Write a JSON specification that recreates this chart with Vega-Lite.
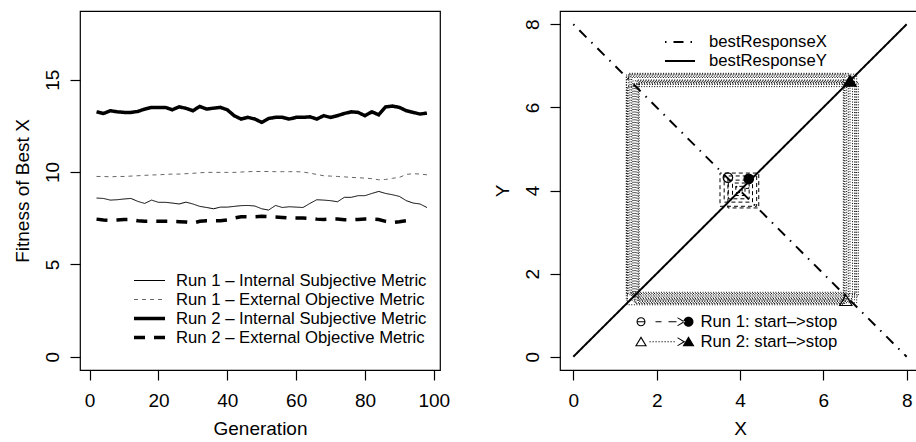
{
  "$schema": "https://vega.github.io/schema/vega-lite/v6.json",
  "background": "white",
  "padding": {"left": 12, "top": 10, "right": -4, "bottom": 0},
  "spacing": 120,
  "bounds": "flush",
  "config": {
    "font": "Liberation Sans",
    "view": {"stroke": "black", "strokeWidth": 1.2},
    "axis": {"domain": false, "grid": false, "tickColor": "black", "tickSize": 10, "tickWidth": 1.2,
      "labelFont": "Liberation Sans", "labelFontSize": 19, "labelColor": "black",
      "titleFont": "Liberation Sans", "titleFontSize": 19, "titleFontWeight": "normal", "titleColor": "black"},
    "legend": {"labelFont": "Liberation Sans", "labelFontSize": 16.7, "labelColor": "black", "title": null, "padding": 0, "labelLimit": 400}
  },
  "datasets": {
    "markers": [
      {"run": "Run 1: start–>stop", "kind": "start", "x": 3.71, "y": 4.31},
      {"run": "Run 1: start–>stop", "kind": "stop", "x": 4.21, "y": 4.28},
      {"run": "Run 2: start–>stop", "kind": "start", "x": 6.54, "y": 1.36},
      {"run": "Run 2: start–>stop", "kind": "stop", "x": 6.64, "y": 6.64}
    ]
  },
  "hconcat": [
    {
      "width": 360, "height": 359,
      "data": {"values": [
        {"g":2,"a":8.59,"b":9.76,"c":13.26,"d":7.45},
        {"g":4,"a":8.57,"b":9.76,"c":13.17,"d":7.40},
        {"g":6,"a":8.48,"b":9.74,"c":13.32,"d":7.38},
        {"g":8,"a":8.50,"b":9.76,"c":13.26,"d":7.40},
        {"g":10,"a":8.54,"b":9.76,"c":13.23,"d":7.43},
        {"g":12,"a":8.57,"b":9.78,"c":13.23,"d":7.43},
        {"g":14,"a":8.41,"b":9.80,"c":13.28,"d":7.36},
        {"g":16,"a":8.30,"b":9.82,"c":13.41,"d":7.33},
        {"g":18,"a":8.48,"b":9.84,"c":13.50,"d":7.33},
        {"g":20,"a":8.36,"b":9.85,"c":13.50,"d":7.33},
        {"g":22,"a":8.36,"b":9.87,"c":13.50,"d":7.33},
        {"g":24,"a":8.32,"b":9.89,"c":13.37,"d":7.33},
        {"g":26,"a":8.27,"b":9.89,"c":13.53,"d":7.31},
        {"g":28,"a":8.37,"b":9.91,"c":13.45,"d":7.29},
        {"g":30,"a":8.27,"b":9.93,"c":13.32,"d":7.24},
        {"g":32,"a":8.14,"b":9.96,"c":13.55,"d":7.33},
        {"g":34,"a":8.08,"b":9.98,"c":13.41,"d":7.36},
        {"g":36,"a":8.01,"b":9.98,"c":13.46,"d":7.36},
        {"g":38,"a":8.10,"b":9.98,"c":13.50,"d":7.36},
        {"g":40,"a":8.10,"b":9.98,"c":13.37,"d":7.40},
        {"g":42,"a":8.14,"b":9.98,"c":13.05,"d":7.51},
        {"g":44,"a":8.18,"b":10.00,"c":12.87,"d":7.58},
        {"g":46,"a":8.19,"b":10.02,"c":12.96,"d":7.58},
        {"g":48,"a":8.16,"b":10.03,"c":12.87,"d":7.58},
        {"g":50,"a":8.01,"b":10.03,"c":12.69,"d":7.60},
        {"g":52,"a":7.94,"b":10.03,"c":12.90,"d":7.58},
        {"g":54,"a":8.19,"b":10.02,"c":12.96,"d":7.56},
        {"g":56,"a":8.08,"b":10.02,"c":12.96,"d":7.54},
        {"g":58,"a":8.12,"b":10.02,"c":12.87,"d":7.51},
        {"g":60,"a":8.10,"b":10.02,"c":12.96,"d":7.51},
        {"g":62,"a":8.08,"b":10.00,"c":12.96,"d":7.51},
        {"g":64,"a":8.30,"b":9.94,"c":12.99,"d":7.49},
        {"g":66,"a":8.50,"b":9.87,"c":12.87,"d":7.45},
        {"g":68,"a":8.48,"b":9.80,"c":13.05,"d":7.43},
        {"g":70,"a":8.45,"b":9.78,"c":12.96,"d":7.45},
        {"g":72,"a":8.39,"b":9.76,"c":13.05,"d":7.45},
        {"g":74,"a":8.63,"b":9.74,"c":13.17,"d":7.42},
        {"g":76,"a":8.63,"b":9.71,"c":13.26,"d":7.42},
        {"g":78,"a":8.72,"b":9.69,"c":13.23,"d":7.43},
        {"g":80,"a":8.72,"b":9.67,"c":13.05,"d":7.45},
        {"g":82,"a":8.84,"b":9.64,"c":13.26,"d":7.45},
        {"g":84,"a":8.95,"b":9.58,"c":13.10,"d":7.43},
        {"g":86,"a":8.84,"b":9.60,"c":13.53,"d":7.33},
        {"g":88,"a":8.77,"b":9.66,"c":13.57,"d":7.27},
        {"g":90,"a":8.68,"b":9.71,"c":13.50,"d":7.31},
        {"g":92,"a":8.45,"b":9.87,"c":13.32,"d":7.36},
        {"g":94,"a":8.32,"b":9.91,"c":13.23,"d":7.43},
        {"g":96,"a":8.27,"b":9.89,"c":13.14,"d":null},
        {"g":98,"a":8.08,"b":9.85,"c":13.19,"d":null}
      ]},
      "transform": [
        {"fold": ["a", "b", "c", "d"], "as": ["key", "fit"]},
        {"lookup": "key", "from": {"data": {"values": [
          {"key": "a", "series": "Run 1 – Internal Subjective Metric"},
          {"key": "b", "series": "Run 1 – External Objective Metric"},
          {"key": "c", "series": "Run 2 – Internal Subjective Metric"},
          {"key": "d", "series": "Run 2 – External Objective Metric"}
        ]}, "key": "key", "fields": ["series"]}}
      ],
      "mark": {"type": "line", "clip": true},
      "encoding": {
        "x": {"field": "g", "type": "quantitative",
          "scale": {"domain": [-2.8, 101.8], "nice": false, "zero": false},
          "axis": {"values": [0, 20, 40, 60, 80, 100], "title": "Generation", "labelPadding": 11, "titlePadding": 9}},
        "y": {"field": "fit", "type": "quantitative",
          "scale": {"domain": [-0.72, 18.72], "nice": false, "zero": false},
          "axis": {"values": [0, 5, 10, 15], "title": "Fitness of Best X", "labelAngle": -90, "labelAlign": "center", "labelBaseline": "bottom", "labelPadding": 8, "titlePadding": 11}},
        "strokeDash": {"field": "series", "type": "ordinal",
          "scale": {"type": "ordinal", "domain": ["Run 1 – Internal Subjective Metric", "Run 1 – External Objective Metric", "Run 2 – Internal Subjective Metric", "Run 2 – External Objective Metric"],
            "range": [[1, 0], [4, 4], [1, 0], [11, 9]]},
          "legend": {"orient": "none", "legendX": 52, "legendY": 260, "symbolType": "stroke", "symbolSize": 961, "labelOffset": 9, "rowPadding": 0, "clipHeight": 19, "title": null}},
        "strokeWidth": {"field": "series", "type": "ordinal",
          "scale": {"type": "ordinal", "domain": ["Run 1 – Internal Subjective Metric", "Run 1 – External Objective Metric", "Run 2 – Internal Subjective Metric", "Run 2 – External Objective Metric"],
            "range": [1, 1, 3.5, 3.5]},
          "legend": {"orient": "none", "legendX": 52, "legendY": 260, "symbolType": "stroke", "symbolSize": 961, "labelOffset": 9, "rowPadding": 0, "clipHeight": 19, "title": null}},
        "stroke": {"field": "series", "type": "ordinal",
          "scale": {"type": "ordinal", "domain": ["Run 1 – Internal Subjective Metric", "Run 1 – External Objective Metric", "Run 2 – Internal Subjective Metric", "Run 2 – External Objective Metric"],
            "range": ["black", "#666666", "black", "black"]},
          "legend": {"orient": "none", "legendX": 52, "legendY": 260, "symbolType": "stroke", "symbolSize": 961, "labelOffset": 9, "rowPadding": 0, "clipHeight": 19, "title": null}}
      }
    },
    {
      "width": 360, "height": 359,
      "encoding": {
        "x": {"field": "x", "type": "quantitative",
          "scale": {"domain": [-0.32, 8.32], "nice": false, "zero": false},
          "axis": {"values": [0, 2, 4, 6, 8], "title": "X", "labelPadding": 11, "titlePadding": 9}},
        "y": {"field": "y", "type": "quantitative",
          "scale": {"domain": [-0.32, 8.32], "nice": false, "zero": false},
          "axis": {"values": [0, 2, 4, 6, 8], "title": "Y", "labelAngle": -90, "labelAlign": "center", "labelBaseline": "bottom", "labelPadding": 8, "titlePadding": 11}}
      },
      "layer": [
        {
          "data": {"values": [
            {"line": "bestResponseX", "x": 0, "y": 8},
            {"line": "bestResponseX", "x": 8, "y": 0},
            {"line": "bestResponseY", "x": 0, "y": 0},
            {"line": "bestResponseY", "x": 8, "y": 8}
          ]},
          "mark": {"type": "line", "stroke": "black", "strokeWidth": 2},
          "encoding": {
            "strokeDash": {"field": "line", "type": "nominal",
              "scale": {"domain": ["bestResponseX", "bestResponseY"], "range": [[1.5, 7, 10, 7], [1, 0]]},
              "legend": {"orient": "none", "legendX": 104, "legendY": 21.5, "symbolType": "stroke", "symbolSize": 900, "symbolStrokeWidth": 2, "symbolStrokeColor": "black", "labelOffset": 13, "rowPadding": 0, "clipHeight": 19, "title": null}}
          }
        },
        {
          "data": {"values": [
            {"run": "Run 1", "step": 1, "x": 3.71, "y": 4.31},
            {"run": "Run 1", "step": 2, "x": 3.71, "y": 3.58},
            {"run": "Run 1", "step": 3, "x": 4.45, "y": 3.58},
            {"run": "Run 1", "step": 4, "x": 4.45, "y": 4.42},
            {"run": "Run 1", "step": 5, "x": 3.52, "y": 4.42},
            {"run": "Run 1", "step": 6, "x": 3.52, "y": 3.62},
            {"run": "Run 1", "step": 7, "x": 4.40, "y": 3.62},
            {"run": "Run 1", "step": 8, "x": 4.40, "y": 4.35},
            {"run": "Run 1", "step": 9, "x": 3.62, "y": 4.35},
            {"run": "Run 1", "step": 10, "x": 3.62, "y": 3.72},
            {"run": "Run 1", "step": 11, "x": 4.30, "y": 3.72},
            {"run": "Run 1", "step": 12, "x": 4.30, "y": 4.25},
            {"run": "Run 1", "step": 13, "x": 3.72, "y": 4.25},
            {"run": "Run 1", "step": 14, "x": 3.72, "y": 3.80},
            {"run": "Run 1", "step": 15, "x": 4.22, "y": 3.80},
            {"run": "Run 1", "step": 16, "x": 4.22, "y": 4.18},
            {"run": "Run 1", "step": 17, "x": 3.82, "y": 4.18},
            {"run": "Run 1", "step": 18, "x": 3.82, "y": 3.88},
            {"run": "Run 1", "step": 19, "x": 4.12, "y": 3.88},
            {"run": "Run 1", "step": 20, "x": 4.12, "y": 4.10},
            {"run": "Run 1", "step": 21, "x": 3.90, "y": 4.10},
            {"run": "Run 1", "step": 22, "x": 3.90, "y": 3.95},
            {"run": "Run 1", "step": 23, "x": 4.05, "y": 3.95},
            {"run": "Run 1", "step": 24, "x": 4.05, "y": 4.05},
            {"run": "Run 1", "step": 25, "x": 4.21, "y": 4.05},
            {"run": "Run 1", "step": 26, "x": 4.21, "y": 4.28},
            {"run": "Run 2", "step": 1, "x": 6.54, "y": 1.36},
            {"run": "Run 2", "step": 2, "x": 1.27, "y": 1.36},
            {"run": "Run 2", "step": 3, "x": 1.27, "y": 6.78},
            {"run": "Run 2", "step": 4, "x": 6.52, "y": 6.78},
            {"run": "Run 2", "step": 5, "x": 6.52, "y": 1.28},
            {"run": "Run 2", "step": 6, "x": 1.50, "y": 1.28},
            {"run": "Run 2", "step": 7, "x": 1.50, "y": 6.55},
            {"run": "Run 2", "step": 8, "x": 6.78, "y": 6.55},
            {"run": "Run 2", "step": 9, "x": 6.78, "y": 1.52},
            {"run": "Run 2", "step": 10, "x": 1.33, "y": 1.52},
            {"run": "Run 2", "step": 11, "x": 1.33, "y": 6.82},
            {"run": "Run 2", "step": 12, "x": 6.60, "y": 6.82},
            {"run": "Run 2", "step": 13, "x": 6.60, "y": 1.33},
            {"run": "Run 2", "step": 14, "x": 1.56, "y": 1.33},
            {"run": "Run 2", "step": 15, "x": 1.56, "y": 6.60},
            {"run": "Run 2", "step": 16, "x": 6.84, "y": 6.60},
            {"run": "Run 2", "step": 17, "x": 6.84, "y": 1.46},
            {"run": "Run 2", "step": 18, "x": 1.40, "y": 1.46},
            {"run": "Run 2", "step": 19, "x": 1.40, "y": 6.72},
            {"run": "Run 2", "step": 20, "x": 6.48, "y": 6.72},
            {"run": "Run 2", "step": 21, "x": 6.48, "y": 1.25},
            {"run": "Run 2", "step": 22, "x": 1.30, "y": 1.25},
            {"run": "Run 2", "step": 23, "x": 1.30, "y": 6.50},
            {"run": "Run 2", "step": 24, "x": 6.70, "y": 6.50},
            {"run": "Run 2", "step": 25, "x": 6.70, "y": 1.40},
            {"run": "Run 2", "step": 26, "x": 1.53, "y": 1.40},
            {"run": "Run 2", "step": 27, "x": 1.53, "y": 6.66},
            {"run": "Run 2", "step": 28, "x": 6.56, "y": 6.66},
            {"run": "Run 2", "step": 29, "x": 6.56, "y": 1.55},
            {"run": "Run 2", "step": 30, "x": 1.36, "y": 1.55},
            {"run": "Run 2", "step": 31, "x": 1.36, "y": 6.80},
            {"run": "Run 2", "step": 32, "x": 6.80, "y": 6.80},
            {"run": "Run 2", "step": 33, "x": 6.80, "y": 1.30},
            {"run": "Run 2", "step": 34, "x": 1.46, "y": 1.30},
            {"run": "Run 2", "step": 35, "x": 1.46, "y": 6.58},
            {"run": "Run 2", "step": 36, "x": 6.64, "y": 6.58},
            {"run": "Run 2", "step": 37, "x": 6.64, "y": 1.49},
            {"run": "Run 2", "step": 38, "x": 1.28, "y": 1.49},
            {"run": "Run 2", "step": 39, "x": 1.28, "y": 6.75},
            {"run": "Run 2", "step": 40, "x": 6.75, "y": 6.75},
            {"run": "Run 2", "step": 41, "x": 6.75, "y": 1.37},
            {"run": "Run 2", "step": 42, "x": 1.58, "y": 1.37},
            {"run": "Run 2", "step": 43, "x": 1.58, "y": 6.62},
            {"run": "Run 2", "step": 44, "x": 6.50, "y": 6.62},
            {"run": "Run 2", "step": 45, "x": 6.50, "y": 1.43},
            {"run": "Run 2", "step": 46, "x": 1.43, "y": 1.43},
            {"run": "Run 2", "step": 47, "x": 1.43, "y": 6.64},
            {"run": "Run 2", "step": 48, "x": 6.64, "y": 6.64}
          ]},
          "mark": {"type": "line", "strokeWidth": 1, "stroke": "black"},
          "encoding": {
            "order": {"field": "step", "type": "quantitative"},
            "strokeDash": {"field": "run", "type": "nominal",
              "scale": {"domain": ["Run 1", "Run 2"], "range": [[4, 3], [1, 1.6]]},
              "legend": null}
          }
        },
        {
          "data": {"name": "markers"},
          "mark": {"type": "point", "stroke": "black", "strokeWidth": 1.2, "opacity": 1},
          "encoding": {
            "shape": {"field": "run", "type": "nominal", "scale": {"domain": ["Run 1: start–>stop", "Run 2: start–>stop"], "range": ["circle", "triangle-up"]}, "legend": null},
            "size": {"field": "run", "type": "nominal", "scale": {"domain": ["Run 1: start–>stop", "Run 2: start–>stop"], "range": [90, 150]}, "legend": null},
            "fill": {"field": "kind", "type": "nominal", "scale": {"domain": ["start", "stop"], "range": ["transparent", "black"]}, "legend": null}
          }
        },
        {
          "data": {"name": "markers"},
          "mark": {"type": "point", "filled": true, "fill": "black", "opacity": 0, "size": 2500},
          "encoding": {
            "shape": {"field": "run", "type": "nominal",
              "scale": {"domain": ["Run 1: start–>stop", "Run 2: start–>stop"], "range": [
                "M-0.92,0A0.18,0.18 0 1 0 -0.56,0A0.18,0.18 0 1 0 -0.92,0Z M-0.876,0A0.136,0.136 0 1 1 -0.604,0A0.136,0.136 0 1 1 -0.876,0Z M-0.88,-0.022V0.022H-0.6V-0.022Z M-0.16,-0.022V0.022H0.08V-0.022Z M0.36,-0.022V0.022H0.68V-0.022Z M0.72,-0.184L1.032,0L0.72,0.184L0.72,0.136L0.944,0L0.72,-0.136Z M0.96,0A0.2,0.2 0 1 0 1.36,0A0.2,0.2 0 1 0 0.96,0Z",
                "M-0.98,0.18L-0.74,-0.22L-0.50,0.18Z M-0.576,0.136L-0.74,-0.132L-0.904,0.136Z M-0.4,-0.024h0.048v0.048h-0.048Z M-0.28,-0.024h0.048v0.048h-0.048Z M-0.16,-0.024h0.048v0.048h-0.048Z M-0.04,-0.024h0.048v0.048h-0.048Z M0.08,-0.024h0.048v0.048h-0.048Z M0.2,-0.024h0.048v0.048h-0.048Z M0.32,-0.024h0.048v0.048h-0.048Z M0.44,-0.024h0.048v0.048h-0.048Z M0.56,-0.024h0.048v0.048h-0.048Z M0.72,-0.184L1.032,0L0.72,0.184L0.72,0.136L0.944,0L0.72,-0.136Z M0.92,0.18L1.16,-0.22L1.4,0.18Z"
              ]},
              "legend": {"orient": "none", "legendX": 74.5, "legendY": 301, "symbolSize": 2500, "labelOffset": 16, "rowPadding": 0, "clipHeight": 19.5, "title": null,
                "symbolOpacity": 1, "symbolFillColor": "black", "symbolStrokeWidth": 0,
                "encode": {"symbols": {"update": {"opacity": {"value": 1}, "fill": {"value": "black"}, "fillOpacity": {"value": 1}, "strokeWidth": {"value": 0}}}}}
            }
          }
        }
      ],
      "resolve": {"scale": {"strokeDash": "independent", "shape": "independent", "size": "independent"}, "legend": {"strokeDash": "independent", "shape": "independent"}}
    }
  ]
}
